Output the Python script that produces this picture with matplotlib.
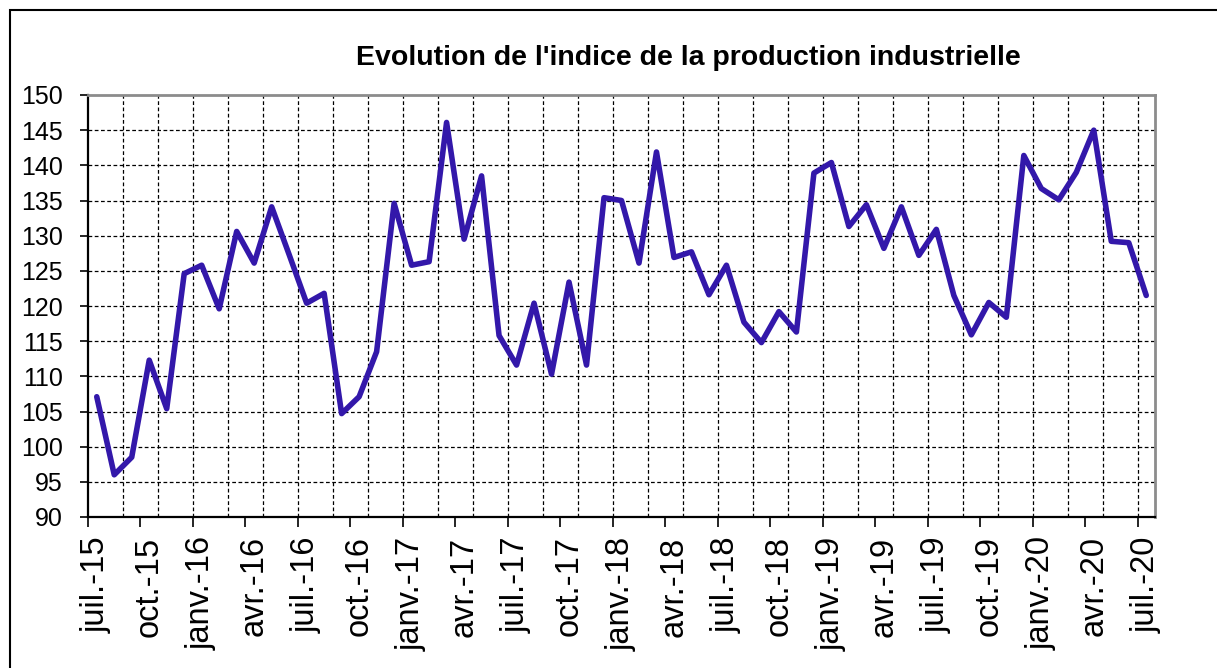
import numpy as np
import matplotlib
matplotlib.use('Agg')
import matplotlib.pyplot as plt
from matplotlib.patches import Rectangle

plt.rcParams['font.family'] = ['Liberation Sans', 'DejaVu Sans']

# indice mensuel de la production industrielle, juil. 2015 -> juil. 2020
indice = [
    107.1, 96.0, 98.5, 112.3, 105.4, 124.6, 125.8, 119.6, 130.6, 126.1,
    134.1, 127.3, 120.4, 121.8, 104.7, 107.1, 113.5, 134.6, 125.8, 126.3,
    146.1, 129.5, 138.5, 115.8, 111.6, 120.4, 110.3, 123.4, 111.6, 135.4,
    135.0, 126.1, 141.9, 126.9, 127.7, 121.6, 125.8, 117.7, 114.8, 119.2,
    116.3, 138.9, 140.4, 131.3, 134.4, 128.2, 134.1, 127.2, 130.9, 121.5,
    115.9, 120.5, 118.4, 141.4, 136.7, 135.1, 139.0, 145.0, 129.2, 129.0,
    121.5,
]

# une étiquette tous les 3 mois
etiquettes = [
    'juil.-15', 'oct.-15', 'janv.-16', 'avr.-16', 'juil.-16', 'oct.-16',
    'janv.-17', 'avr.-17', 'juil.-17', 'oct.-17', 'janv.-18', 'avr.-18',
    'juil.-18', 'oct.-18', 'janv.-19', 'avr.-19', 'juil.-19', 'oct.-19',
    'janv.-20', 'avr.-20', 'juil.-20',
]

W, H = 1217, 668
fig = plt.figure(figsize=(W / 100, H / 100), dpi=100)
ax = fig.add_axes([88 / W, 1 - 517 / H, (1155 - 88) / W, (517 - 95) / H])

x = np.arange(len(indice))
ax.plot(x, indice, color='#3318AA', linewidth=4.0,
        solid_joinstyle='round', solid_capstyle='round', zorder=3)

ax.set_xlim(-0.5, len(indice) - 0.5)
ax.set_ylim(90, 150)

# axe des ordonnées
ax.set_yticks(np.arange(90, 151, 5))
ax.tick_params(axis='y', direction='out', length=6, width=1.2, pad=12,
               labelsize=18, color='black')
for v in np.arange(95, 150, 5):
    ax.axhline(v, color='black', linewidth=0.9, linestyle=(0, (3, 2)), zorder=1)

# axe des abscisses : graduations entre catégories, étiquettes au centre
ax.set_xticks(np.arange(-0.5, len(indice), 3))
ax.set_xticklabels([])
ax.tick_params(axis='x', which='major', direction='out', length=7, width=1.2,
               color='black')
ax.set_xticks(np.arange(0, len(indice), 3), minor=True)
ax.set_xticklabels(etiquettes, minor=True, rotation=90, fontsize=23.5)
ax.tick_params(axis='x', which='minor', length=0, pad=14)
for g in np.arange(1.5, len(indice) - 1, 2):
    ax.axvline(g, color='black', linewidth=0.9, linestyle=(0, (3, 2)), zorder=1)

for s in ['top', 'right']:
    ax.spines[s].set_color('#8c8c8c')
    ax.spines[s].set_linewidth(2.0)
for s in ['left', 'bottom']:
    ax.spines[s].set_color('black')
    ax.spines[s].set_linewidth(1.6)

fig.text(688 / W, 1 - 58 / H, "Evolution de l'indice de la production industrielle",
         ha='center', va='center', fontsize=20.5, fontweight='bold')

# cadre extérieur du graphique
fig.patches.append(Rectangle((10 / W, -0.2), 1.2, 1 - 10 / H + 0.2,
                             transform=fig.transFigure, fill=False,
                             edgecolor='black', linewidth=1.5))

fig.savefig('out.png', dpi=100)
